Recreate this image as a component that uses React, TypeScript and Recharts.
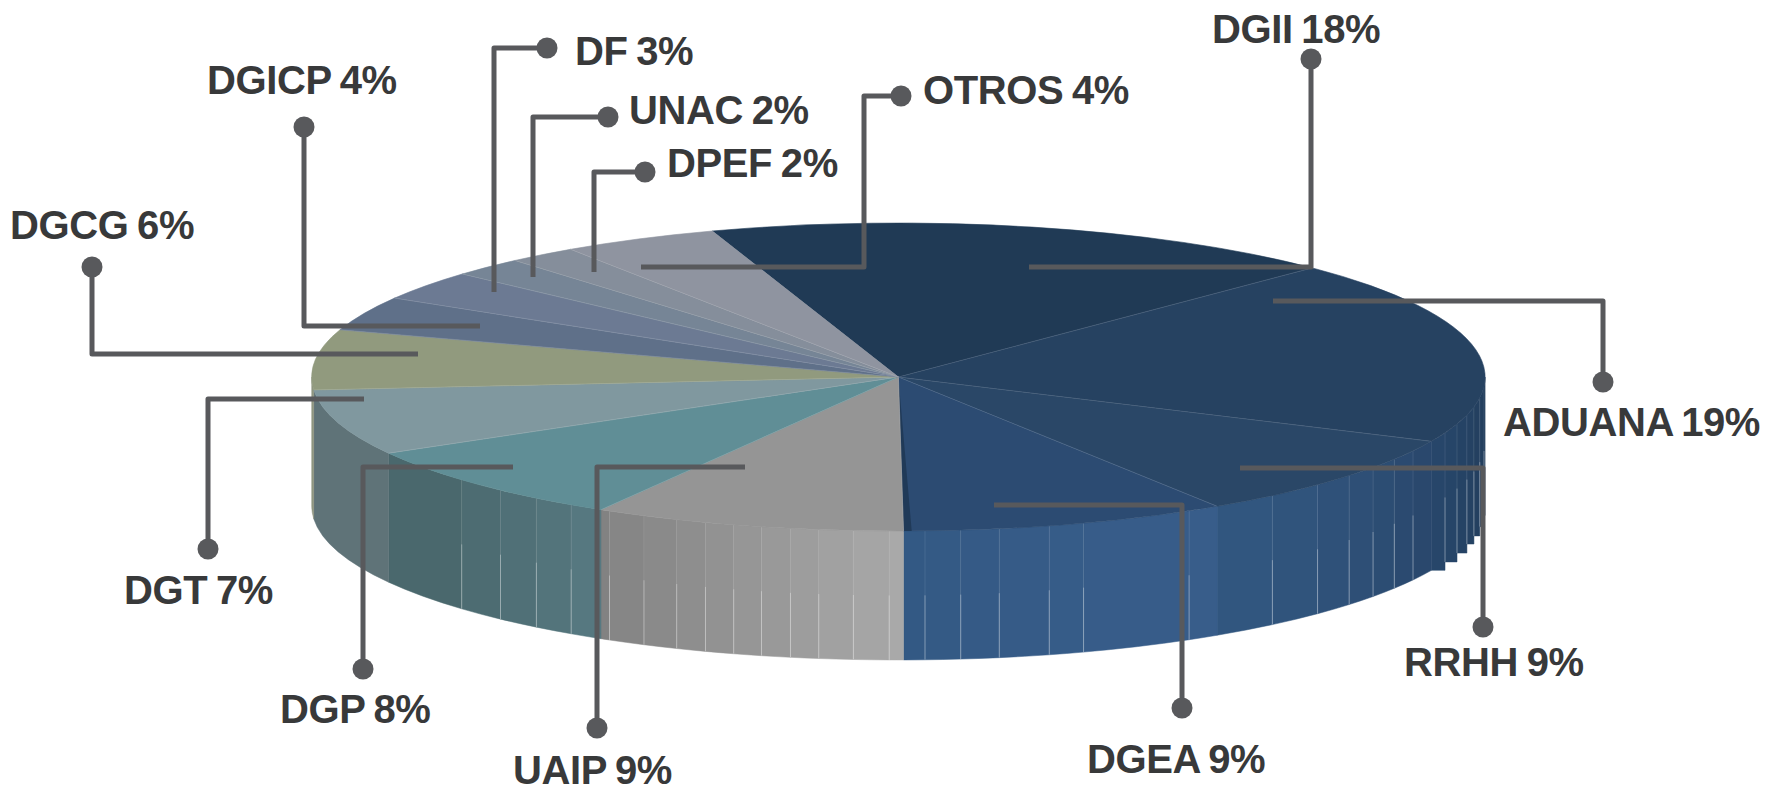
import { Pie, PieChart } from "recharts";

const CATEGORIES = ["DGII", "ADUANA", "RRHH", "DGEA", "UAIP", "DGP", "DGT", "DGCG", "DGICP", "DF", "UNAC", "DPEF", "OTROS"];
const SHARES = [17.6, 19.4, 9.0, 9.0, 8.6, 8.3, 6.9, 6.3, 3.6, 3.1, 2.0, 1.9, 4.3];

const TOP_COLORS = ["#203a55", "#264261", "#2a4767", "#2c4b72", "#959595", "#608e96", "#80989f", "#919a7e", "#5f7089", "#6c7a93", "#768596", "#858e9b", "#8f94a0"];
// wall shade at the start and end of each slice, clockwise
const WALL_FROM = ["#223d5b", "#223d5b", "#2a486d", "#385d8a", "#a9a9a9", "#567880", "#5f7378", "#8f9580", "#5f7089", "#6c7a93", "#768596", "#858e9b", "#8f94a0"];
const WALL_TO = ["#223d5b", "#27466a", "#31567f", "#335984", "#828282", "#4a686d", "#5f7378", "#8f9580", "#5f7089", "#6c7a93", "#768596", "#858e9b", "#8f94a0"];

// facet seams on the side wall, degrees clockwise from the top of the pie
const WALL_SEAMS = [
  93.5, 97.7, 101.2, 104.3, 107.8, 111.3, 118.7, 122.3, 126, 129.8, 134.4, 140.4, 150.3, 161.6, 165.1, 170.1, 173.9,
  177.4, 180.9, 184.4, 187.8, 190.6, 193.5, 196.3, 199.2, 202.2, 205.7, 209.5, 213.9, 218.1, 222.7, 228.1,
];

// callout routing per slice: line points ending on the dot, then the text origin
const LEADER_PATHS = [
  [[1029, 267], [1311, 267], [1311, 59]],
  [[1273, 301], [1603, 301], [1603, 382]],
  [[1240, 468], [1483, 468], [1483, 627]],
  [[994, 505], [1182, 505], [1182, 708]],
  [[745, 467], [597, 467], [597, 728]],
  [[513, 467], [363, 467], [363, 669]],
  [[364, 399], [208, 399], [208, 549]],
  [[418, 354], [92, 354], [92, 267]],
  [[480, 326], [304, 326], [304, 127]],
  [[494, 292], [494, 48], [547, 48]],
  [[533, 277], [533, 117], [608, 117]],
  [[594, 272], [594, 172], [645, 172]],
  [[641, 267], [864, 267], [864, 96], [901, 96]],
];
const LABEL_ORIGINS = [
  [1212, 43], [1503, 436], [1404, 676], [1087, 773], [513, 784], [280, 723], [124, 604],
  [10, 239], [207, 94], [575, 65], [629, 124], [667, 177], [923, 104],
];

const CX = 898.4;
const CY = 377;
const RADIUS = 586.7;
const TILT = 0.2624;
const DEPTH = 129;
const LINE = "#58595c";

const tableData = CATEGORIES.map((name, i) => ({ name, share: SHARES[i], label: `${name} ${Math.round(SHARES[i])}%` }));

const rad = (deg: number) => (deg * Math.PI) / 180;
const px = (t: number) => CX + RADIUS * Math.sin(rad(t));
const py = (t: number) => CY - RADIUS * TILT * Math.cos(rad(t));

function mix(a: string, b: string, f: number) {
  const ch = (h: string, i: number) => parseInt(h.slice(1 + i * 2, 3 + i * 2), 16);
  const out = [0, 1, 2].map((i) => Math.round(ch(a, i) + (ch(b, i) - ch(a, i)) * f));
  return `rgb(${out.join(",")})`;
}

function TopSlice(props: any) {
  const from = 90 - props.startAngle;
  const to = 90 - props.endAngle;
  const large = to - from > 180 ? 1 : 0;
  const d = `M${CX} ${CY}L${px(from)} ${py(from)}A${RADIUS} ${RADIUS * TILT} 0 ${large} 1 ${px(to)} ${py(to)}Z`;
  return (
    <g>
      <path d={d} fill={TOP_COLORS[props.index]} stroke={TOP_COLORS[props.index]} strokeWidth={0.6} />
      <line x1={CX} y1={CY} x2={px(from)} y2={py(from)} stroke="#ffffff" strokeOpacity={0.12} strokeWidth={1} />
      {/* the dark sliver where DGEA meets UAIP */}
      {props.index === 3 && (
        <path d={`M${CX} ${CY}L${px(to - 0.8)} ${py(to - 0.8)}L${px(to)} ${py(to)}Z`} fill="#203a58" />
      )}
    </g>
  );
}

function WallSlice(props: any) {
  const from = Math.max(90 - props.startAngle, 90);
  const to = Math.min(90 - props.endAngle, 270);
  if (to <= from) return <g />;
  const edges = [from, ...WALL_SEAMS.filter((s) => s > from && s < to), to];
  const i = props.index;
  const ry = RADIUS * TILT;
  return (
    <g>
      {edges.slice(0, -1).map((a, k) => {
        const b = edges[k + 1];
        const color = mix(WALL_FROM[i], WALL_TO[i], edges.length > 2 ? k / (edges.length - 2) : 0);
        // the far right facets end in flat steps instead of following the curve
        const bottom = i === 1
          ? `L${px(b)} ${py(b) + DEPTH}L${px(a)} ${py(b) + DEPTH}Z`
          : `L${px(b)} ${py(b) + DEPTH}A${RADIUS} ${ry} 0 0 0 ${px(a)} ${py(a) + DEPTH}Z`;
        const d = `M${px(a)} ${py(a)}A${RADIUS} ${ry} 0 0 1 ${px(b)} ${py(b)}${bottom}`;
        return (
          <g key={k}>
            <path d={d} fill={color} stroke={color} strokeWidth={0.5} />
            {k > 0 && (
              <>
                <line x1={px(a)} y1={py(a)} x2={px(a)} y2={py(a) + DEPTH * 0.5} stroke="#ffffff" strokeOpacity={0.1} />
                <line x1={px(a)} y1={py(a) + DEPTH * 0.5} x2={px(a)} y2={py(a) + DEPTH} stroke="#ffffff" strokeOpacity={0.4} />
              </>
            )}
          </g>
        );
      })}
    </g>
  );
}

function Callout(props: any) {
  const pts = LEADER_PATHS[props.index];
  const [lx, ly] = LABEL_ORIGINS[props.index];
  const dot = pts[pts.length - 1];
  return (
    <g>
      <polyline
        points={pts.map((p) => p.join(",")).join(" ")}
        fill="none"
        stroke={LINE}
        strokeWidth={5}
        strokeLinejoin="round"
      />
      <circle cx={dot[0]} cy={dot[1]} r={10.5} fill={LINE} />
      <text
        x={lx}
        y={ly}
        fill="#38393a"
        fontFamily="Liberation Sans"
        fontWeight={700}
        fontSize={40}
        letterSpacing={-0.4}
        wordSpacing={-2}
      >
        {tableData[props.index].label}
      </text>
    </g>
  );
}

export default function App() {
  const pieProps = {
    data: tableData,
    dataKey: "share",
    nameKey: "name",
    cx: CX,
    cy: CY,
    innerRadius: 0,
    outerRadius: RADIUS,
    startAngle: 108.5,
    endAngle: -251.5,
    stroke: "none",
    isAnimationActive: false,
  };
  return (
    <div style={{ position: "absolute", left: 0, top: 0, background: "#fff" }}>
      <PieChart width={1765} height={787} margin={{ top: 0, right: 0, bottom: 0, left: 0 }}>
        <Pie {...pieProps} shape={WallSlice} label={false} labelLine={false} />
        <Pie {...pieProps} shape={TopSlice} label={Callout} labelLine={false} />
      </PieChart>
    </div>
  );
}
